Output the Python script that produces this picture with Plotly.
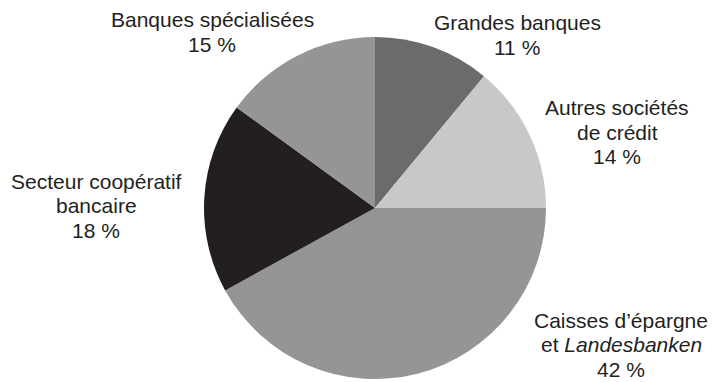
import plotly.graph_objects as go

# Répartition par catégorie d'établissement (sens horaire depuis midi)
categories = [
    "Grandes banques",
    "Autres sociétés de crédit",
    "Caisses d'épargne et Landesbanken",
    "Secteur coopératif bancaire",
    "Banques spécialisées",
]
parts = [11, 14, 42, 18, 15]
label_lines = [
    ["Grandes banques", "11 %"],
    ["Autres sociétés", "de crédit", "14 %"],
    ["Caisses d\u2019épargne", "et <i>Landesbanken</i>", "42 %"],
    ["Secteur coopératif", "bancaire", "18 %"],
    ["Banques spécialisées", "15 %"],
]
slice_colors = ["#6b6b6e", "#c7c8ca", "#959598", "#231f20", "#959598"]

W, H = 712, 382
cx, cy, r = 375, 208, 171

fig = go.Figure(
    go.Pie(
        labels=categories,
        values=parts,
        sort=False,
        direction="clockwise",
        rotation=0,
        marker=dict(colors=slice_colors, line=dict(width=0)),
        textinfo="none",
        hoverinfo="label+percent",
        domain=dict(
            x=[(cx - r) / W, (cx + r) / W],
            y=[1 - (cy + r) / H, 1 - (cy - r) / H],
        ),
        showlegend=False,
    )
)

# Étiquettes extérieures : centre horizontal et position de la première ligne (px)
label_anchor = [(517, 23), (617, 108), (621, 320), (96, 181), (212, 20)]
line_step = 24.5
for lines, (px, py) in zip(label_lines, label_anchor):
    for i, line in enumerate(lines):
        fig.add_annotation(
            x=px / W, y=1 - (py + i * line_step) / H,
            xref="paper", yref="paper",
            text=line, showarrow=False, align="center",
            xanchor="center", yanchor="middle", borderpad=0,
            font=dict(family="Liberation Sans, Arial, sans-serif", size=21, color="#231f20"),
        )

fig.update_layout(
    width=W, height=H,
    margin=dict(l=0, r=0, t=0, b=0),
    paper_bgcolor="white",
    plot_bgcolor="white",
)

fig.write_html("out.html")
